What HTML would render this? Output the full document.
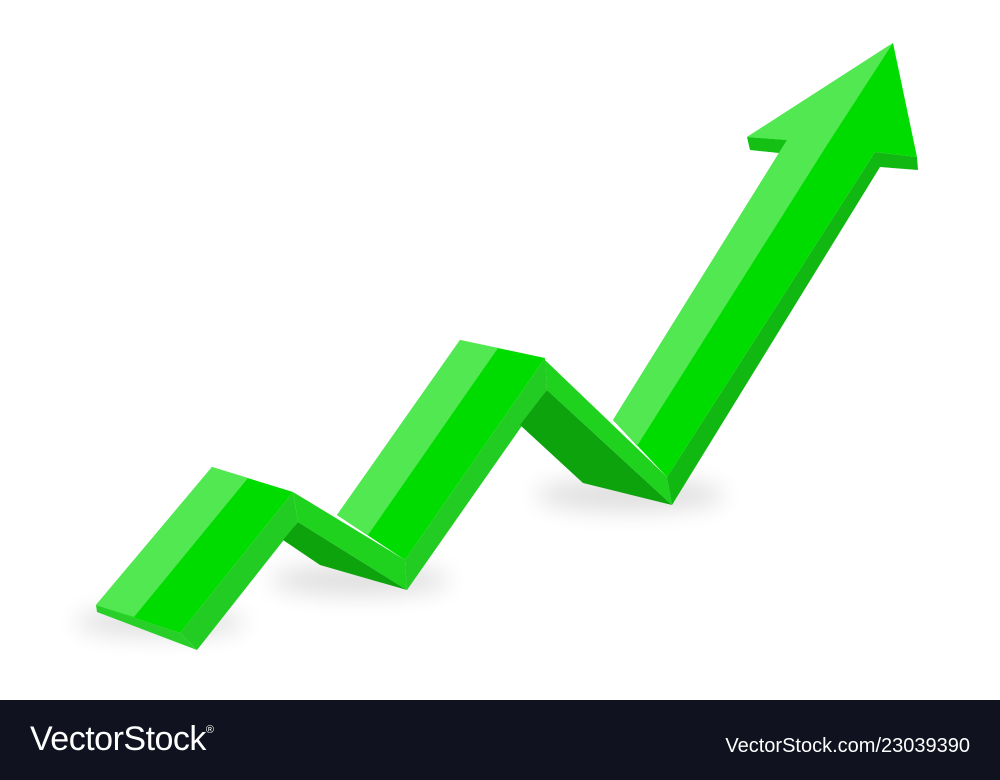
<!DOCTYPE html>
<html><head><meta charset="utf-8"><style>
html,body{margin:0;padding:0;background:#fff;}
#wrap{position:relative;width:1000px;height:780px;overflow:hidden;font-family:"Liberation Sans",sans-serif;}
#footer{position:absolute;left:0;top:700px;width:1000px;height:80px;background:#10131f;}
#logo{position:absolute;left:30px;top:20px;color:#fff;font-size:34px;letter-spacing:-0.5px;}
#logo sup{font-size:11px;vertical-align:top;position:relative;top:4px;}
#url{position:absolute;right:30px;top:35px;color:#fff;font-size:20px;}
</style></head><body>
<div id="wrap">
<svg width="1000" height="700">
<defs>
<filter id="blur" x="-50%" y="-50%" width="200%" height="200%"><feGaussianBlur stdDeviation="12"/></filter>
</defs>
<g fill="#000" opacity="0.13" filter="url(#blur)">
<ellipse cx="160" cy="622" rx="85" ry="14"/>
<ellipse cx="360" cy="580" rx="90" ry="15"/>
<ellipse cx="630" cy="495" rx="95" ry="16"/>
</g>
<polygon points="96,605 180,633 197,650 97,612" fill="#29cf29"/>
<polygon points="180,633 293,492 298,522 197,650" fill="#22cc22"/>
<polygon points="96,605 212,467 293,492 180,633" fill="#00dc00"/>
<polygon points="96,605 212,467 248,478 134,617" fill="#52e852"/>
<polygon points="298,522 283,540 320,565 407,590" fill="#0da30d"/>
<polygon points="293,492 405,560 407,590 298,522" fill="#1ed21e"/>
<polygon points="405,560 545,358 547,390 407,590" fill="#22cc22"/>
<polygon points="337,515 460,340 545,358 405,560" fill="#00dc00"/>
<polygon points="337,515 460,340 498,348 368,535" fill="#52e852"/>
<polygon points="547,390 520,425 583,483 672,505" fill="#0da30d"/>
<polygon points="545,360 667,477 672,505 547,390" fill="#1ed21e"/>
<polygon points="667,477 875,152 917,157 918,170 880,167 672,505" fill="#12b812"/>
<polygon points="747,137 787,140 779,153 750,150" fill="#14c014"/>
<polygon points="613,420 787,140 747,137 893,43 917,157 875,152 667,477" fill="#00dc00"/>
<polygon points="613,420 787,140 747,137 893,43 827,145 637,446" fill="#52e852"/>
</svg>
<div id="footer">
<div id="logo">VectorStock<sup>®</sup></div>
<div id="url">VectorStock.com/23039390</div>
</div>
</div>
</body></html>
